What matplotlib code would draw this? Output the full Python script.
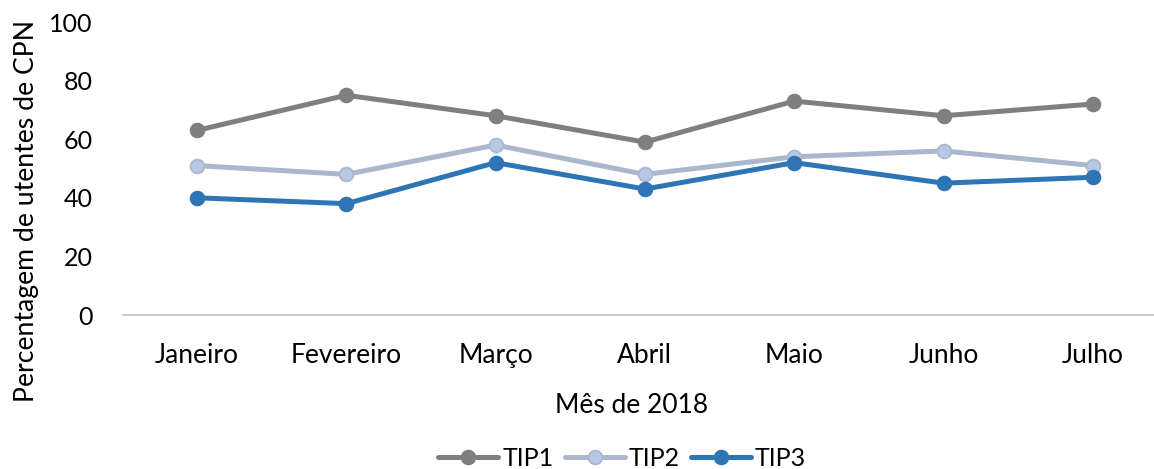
import matplotlib
matplotlib.use("Agg")
import matplotlib.pyplot as plt

months = ["Janeiro", "Fevereiro", "Março", "Abril", "Maio", "Junho", "Julho"]
tip1 = [63, 75, 68, 59, 73, 68, 72]
tip2 = [51, 48, 58, 48, 54, 56, 51]
tip3 = [40, 38, 52, 43, 52, 45, 47]
series_names = ["TIP1", "TIP2", "TIP3"]

plt.rcParams['font.family'] = ['Lato', 'DejaVu Sans']

W, H = 1154, 469
fig = plt.figure(figsize=(W / 100, H / 100), dpi=100)
left = 123 / W
bottom = 1 - 315 / H
top = 1 - 22 / H
ax = fig.add_axes([left, bottom, 1 - left, top - bottom])

x = list(range(len(months)))
styles = [
    dict(color="#7f7f7f", mfc="#7f7f7f", mec="#7f7f7f"),
    dict(color="#aab7cc", mfc="#b7c8e6", mec="#aab7cc"),
    dict(color="#2e75b6", mfc="#2e75b6", mec="#2e75b6"),
]
for vals, name, st in zip([tip1, tip2, tip3], series_names, styles):
    ax.plot(x, vals, marker="o", lw=3.6, ms=10, mew=1.2, label=name,
            solid_capstyle="round", **st)

ax.set_ylim(0, 100)
ax.set_xlim((123 - 197) / 149.3, (1154 - 197) / 149.3)
ax.set_yticks([0, 20, 40, 60, 80, 100])
ax.set_xticks(x)
ax.set_xticklabels(months)
ax.tick_params(axis="both", length=0, colors="black")
ax.tick_params(axis="x", pad=20, labelsize=19)
ax.tick_params(axis="y", pad=22, labelsize=18)
for s in ["top", "right", "left"]:
    ax.spines[s].set_visible(False)
ax.spines["bottom"].set_color("#bfbfbf")
ax.spines["bottom"].set_linewidth(1.2)

fig.text(27 / W, 1 - 211 / H, "Percentagem de utentes de CPN", rotation=90,
         ha="center", va="center", fontsize=19.2)
fig.text(632 / W, 1 - 405 / H, "Mês de 2018", ha="center", va="center", fontsize=19)

fig.legend(loc="center", bbox_to_anchor=(622 / W, 1 - 458 / H), ncol=3, frameon=False,
           fontsize=18, handlelength=2.4, handletextpad=0.15, columnspacing=0.45)

fig.savefig("out.png", dpi=100)
